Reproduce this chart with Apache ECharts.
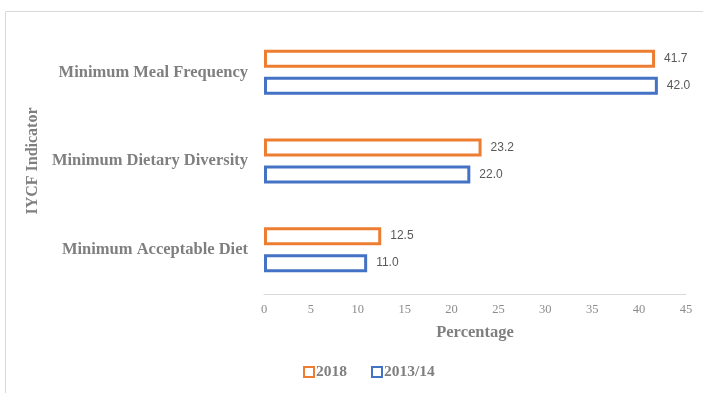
<!DOCTYPE html>
<html>
<head>
<meta charset="utf-8">
<script src="https://cdn.jsdelivr.net/npm/echarts@6/dist/echarts.min.js"></script>
<style>
  html, body { margin: 0; padding: 0; background: #fff; }
  #chart { width: 703px; height: 393px; }
</style>
</head>
<body>
<div id="chart"></div>
<script>
const categories = ['Minimum Meal Frequency', 'Minimum Dietary Diversity', 'Minimum Acceptable Diet'];
const values2018 = [41.7, 23.2, 12.5];
const values2013 = [42.0, 22.0, 11.0];
const seriesNames = ['2018', '2013/14'];

const serif = '"Liberation Serif", "DejaVu Serif", serif';
const sans = '"Liberation Sans", "DejaVu Sans", sans-serif';

const myChart = echarts.init(document.getElementById('chart'));

function barSeries(name, data, color) {
    return {
        name: name,
        type: 'bar',
        data: data,
        barWidth: 18,
        barGap: '50%',
        itemStyle: { color: '#fff', borderColor: color, borderWidth: 3 },
        label: {
            show: true,
            position: 'right',
            distance: 9,
            color: '#595959',
            fontFamily: sans,
            fontSize: 12,
            formatter: p => p.value.toFixed(1)
        }
    };
}

const option = {
    animation: false,
    grid: { left: 264, right: 17, top: 28, bottom: 99 },
    xAxis: {
        type: 'value',
        min: 0,
        max: 45,
        interval: 5,
        name: 'Percentage',
        nameLocation: 'middle',
        nameGap: 30,
        nameTextStyle: { color: '#7f7f7f', fontFamily: serif, fontWeight: 'bold', fontSize: 16.5 },
        axisLine: { show: true, lineStyle: { color: '#d9d9d9', width: 1 } },
        axisTick: { show: false },
        splitLine: { show: false },
        axisLabel: { color: '#8c8c8c', fontFamily: serif, fontSize: 12.5, margin: 9 }
    },
    yAxis: {
        type: 'category',
        data: categories,
        inverse: true,
        name: 'IYCF Indicator',
        nameLocation: 'middle',
        nameGap: 220,
        nameRotate: 90,
        nameTextStyle: { color: '#7f7f7f', fontFamily: serif, fontWeight: 'bold', fontSize: 16 },
        axisLine: { show: false },
        axisTick: { show: false },
        axisLabel: { color: '#7f7f7f', fontFamily: serif, fontWeight: 'bold', fontSize: 16.5, margin: 16 }
    },
    legend: {
        bottom: 8,
        left: 298,
        itemWidth: 10,
        itemHeight: 10,
        itemGap: 24,
        icon: 'rect',
        textStyle: { color: '#7f7f7f', fontFamily: serif, fontWeight: 'bold', fontSize: 15.5, padding: [0, 0, 0, -3] },
        data: seriesNames
    },
    graphic: [
        { type: 'line', shape: { x1: 5.5, y1: 11.5, x2: 703, y2: 11.5 }, style: { stroke: '#d9d9d9', lineWidth: 1 } },
        { type: 'line', shape: { x1: 5.5, y1: 11.5, x2: 5.5, y2: 393 }, style: { stroke: '#d9d9d9', lineWidth: 1 } }
    ],
    series: [
        barSeries(seriesNames[0], values2018, '#ED7D31'),
        barSeries(seriesNames[1], values2013, '#4472C4')
    ]
};
myChart.setOption(option);
</script>
</body>
</html>
